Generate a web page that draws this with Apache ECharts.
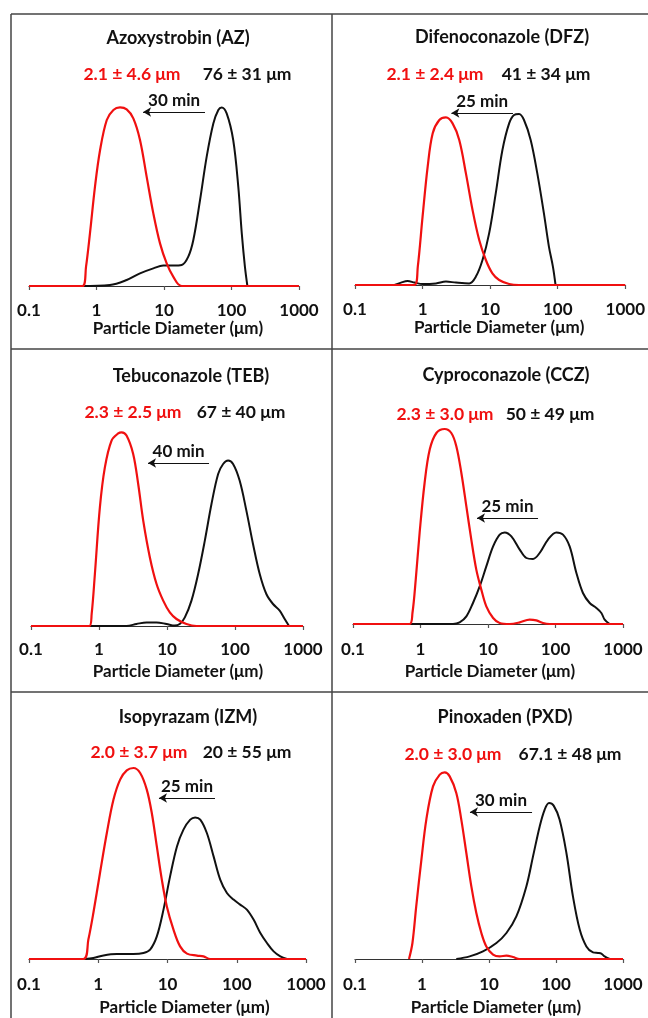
<!DOCTYPE html>
<html>
<head>
<meta charset="utf-8">
<script src="https://cdn.jsdelivr.net/npm/echarts@6/dist/echarts.min.js"></script>
<style>
  html, body { margin: 0; padding: 0; background: #fff; }
  #chart { width: 648px; height: 1018px; }
</style>
</head>
<body>
<div id="chart"></div>
<script>
// particle size distributions, [diameter µm, volume %]
const azRed = [[0.1,0],[0.62,0],[0.70,0.97],[0.80,2.63],[0.95,4.97],[1.13,6.8],[1.42,8.3],[1.78,8.8],[2.23,8.93],[2.80,8.83],[3.51,8.38],[4.41,7.3],[5.53,5.47],[6.95,3.63],[8.73,2.13],[10.96,1.13],[13.7,0.47],[18.3,0],[1000,0]]
const azBlack = [[0.6,0],[1.58,0.05],[2.80,0.3],[4.41,0.63],[6.95,0.88],[9.78,1.02],[13.7,1.02],[18.3,1.05],[22.9,1.47],[27.2,2.3],[34.2,4.3],[42.9,6.47],[53.8,8.13],[63.8,8.8],[71.5,8.93],[84.8,8.63],[106,7.3],[126,4.97],[142,2.63],[158,0.97],[172,0]]

const dfzRed = [[0.1,0],[0.76,0],[0.85,0.92],[1.0,3.42],[1.19,5.92],[1.41,7.58],[1.77,8.25],[2.22,8.38],[2.78,8.08],[3.49,7.25],[4.38,5.58],[5.49,3.75],[6.89,2.25],[8.64,1.25],[10.8,0.58],[13.6,0.25],[19.1,0.05],[26.8,0],[1000,0]]
const dfzBlack = [[0.385,0],[0.48,0.12],[0.60,0.2],[0.76,0.12],[1.0,0.05],[1.58,0.08],[2.22,0.17],[3.12,0.12],[4.90,0.08],[6.15,0.42],[7.71,1.25],[9.66,2.58],[12.1,4.58],[15.2,6.75],[19.1,8.08],[22.6,8.5],[26.8,8.55],[31.7,8.25],[39.8,7.25],[49.9,5.58],[62.5,3.58],[74.1,1.92],[84.9,0.92],[92.9,0]]

const tebRed = [[0.1,0],[0.72,0],[0.78,0.6],[0.87,2.6],[1.03,5.93],[1.22,7.93],[1.53,9.27],[1.92,9.63],[2.15,9.68],[2.54,9.52],[3.18,8.6],[3.77,7.1],[4.47,5.27],[5.60,3.43],[7.02,2.1],[8.79,1.27],[11.0,0.68],[13.8,0.35],[19.3,0.1],[27.1,0],[1000,0]]
const tebBlack = [[0.72,0],[2.54,0],[3.56,0.1],[5.0,0.18],[7.02,0.18],[9.85,0.1],[13.0,0.02],[15.4,0.1],[18.3,0.43],[22.9,1.27],[28.7,2.6],[36.0,4.27],[45.1,6.1],[56.5,7.6],[66.9,8.1],[79.1,8.27],[93.7,8.1],[117,7.27],[147,5.77],[184,4.1],[231,2.6],[289,1.6],[362,1.1],[454,0.77],[538,0.35],[623,0]]

const cczRed = [[0.1,0],[0.69,0],[0.76,0.55],[0.85,2.22],[0.97,4.55],[1.15,7.05],[1.37,8.72],[1.72,9.55],[2.28,9.75],[2.86,9.55],[3.40,8.88],[4.03,7.55],[4.78,5.88],[5.66,4.22],[6.71,2.72],[7.96,1.72],[9.44,0.88],[11.9,0.3],[14.9,0.05],[20.9,0],[29.5,0.08],[41.4,0.22],[52.0,0.18],[65.3,0.05],[82.0,0],[1000,0]]
const cczBlack = [[0.69,0],[3.03,0],[3.80,0.08],[4.78,0.38],[5.99,1.05],[7.53,1.88],[9.44,2.88],[11.9,3.88],[14.9,4.47],[17.7,4.58],[22.2,4.38],[29.5,3.72],[37.0,3.3],[46.4,3.25],[58.2,3.55],[77.4,4.22],[103,4.58],[129,4.47],[162,3.88],[204,2.55],[255,1.55],[321,1.05],[403,0.8],[478,0.55],[535,0.22],[634,0]]

const izmRed = [[0.1,0],[0.61,0],[0.72,0.97],[0.85,2.3],[1.06,4.3],[1.33,6.3],[1.66,7.97],[2.07,8.97],[2.58,9.43],[3.22,9.55],[4.03,9.3],[5.02,8.47],[5.93,7.3],[7.01,5.63],[8.28,3.97],[9.78,2.63],[12.2,1.47],[15.2,0.63],[19.1,0.27],[26.6,0.17],[33.1,0.13],[41.4,0],[1000,0]]
const izmBlack = [[0.645,0],[0.85,0.05],[1.19,0.18],[1.85,0.25],[3.22,0.25],[4.50,0.3],[5.61,0.47],[7.01,1.13],[8.75,2.47],[10.9,4.13],[13.7,5.63],[17.0,6.47],[21.3,6.97],[25.1,7.08],[29.7,6.97],[37.0,6.3],[46.3,5.13],[57.7,3.97],[72.1,3.3],[89.9,2.97],[112,2.72],[140,2.47],[175,1.97],[219,1.3],[273,0.8],[341,0.38],[426,0.13],[531,0]]

const pxdRed = [[0.64,0],[0.72,0.8],[0.82,2.63],[0.98,4.97],[1.16,6.97],[1.46,8.63],[1.84,9.22],[2.18,9.33],[2.59,9.13],[3.25,8.3],[3.86,6.97],[4.59,5.3],[5.45,3.63],[6.47,2.3],[7.69,1.3],[9.12,0.63],[11.5,0.22],[14.4,0.13],[18.2,0.17],[22.8,0.1],[28.7,0],[1000,0]]
const pxdBlack = [[3.25,0],[5.14,0.13],[8.13,0.38],[12.9,0.8],[18.2,1.3],[25.6,2.13],[36.1,3.63],[45.4,5.13],[57.1,6.63],[67.8,7.47],[78.7,7.8],[92.3,7.67],[113,6.97],[143,5.3],[179,3.13],[226,1.47],[284,0.63],[357,0.33],[424,0.3],[475,0.27],[532,0.13],[632,0]]

const titles = ['Azoxystrobin (AZ)', 'Difenoconazole (DFZ)', 'Tebuconazole (TEB)', 'Cyproconazole (CCZ)', 'Isopyrazam (IZM)', 'Pinoxaden (PXD)']
const redLabels = ['2.1 ± 4.6 μm', '2.1 ± 2.4 μm', '2.3 ± 2.5 μm', '2.3 ± 3.0 μm', '2.0 ± 3.7 μm', '2.0 ± 3.0 μm']
const blackLabels = ['76 ± 31 μm', '41 ± 34 μm', '67 ± 40 μm', '50 ± 49 μm', '20 ± 55 μm', '67.1 ± 48 μm']
const times = ['30 min', '25 min', '40 min', '25 min', '25 min', '30 min']
// arrow from / to diameter, at height
const arrows = [[40.5, 4.9, 8.7], [21.8, 2.67, 8.6], [41.5, 5.26, 8.15], [55.1, 6.87, 5.3], [48.5, 7.53, 8.05], [43.9, 5.2, 7.35]]
const redSeries = [azRed, dfzRed, tebRed, cczRed, izmRed, pxdRed]
const blackSeries = [azBlack, dfzBlack, tebBlack, cczBlack, izmBlack, pxdBlack]
const xTicks = [0.1, 1, 10, 100, 1000]

// panel layout
const panels = [
  { left: 29, width: 270, base: 286, titleX: 173, titleY: 35, annY: 71, redX: 127, blackX: 242, shift: 14, labelY: 311, nameY: 329 },
  { left: 355, width: 272, base: 285, titleX: 497, titleY: 34, annY: 71, redX: 430, blackX: 541, shift: 9, labelY: 310, nameY: 328 },
  { left: 31, width: 272, base: 626, titleX: 186, titleY: 373, annY: 409, redX: 128, blackX: 236, shift: 11, labelY: 650, nameY: 672 },
  { left: 353, width: 270, base: 624, titleX: 501, titleY: 372, annY: 411, redX: 440, blackX: 545, shift: 2, labelY: 650, nameY: 672 },
  { left: 29, width: 277, base: 959, titleX: 183, titleY: 714, annY: 749, redX: 134, blackX: 242, shift: 17, labelY: 985, nameY: 1008 },
  { left: 355, width: 268, base: 959, titleX: 500, titleY: 714, annY: 751, redX: 448, blackX: 565, shift: 7, labelY: 985, nameY: 1008 }
]

const FONT = 'Lato'
const TICK_SIZE = 17
const NAME_SIZE = 17
const chart = echarts.init(document.getElementById('chart'), null, { renderer: 'canvas' })

const grid = panels.map((p) => ({ left: p.left, width: p.width, top: p.base - 200, height: 200 }))

const xAxis = panels.map((p, i) => ({
  type: 'log',
  logBase: 10,
  min: 0.1,
  max: 1000,
  gridIndex: i,
  name: 'Particle Diameter (μm)',
  nameLocation: 'middle',
  nameGap: p.nameY - p.base - NAME_SIZE / 2,
  nameTextStyle: { fontFamily: FONT, fontWeight: 'bold', fontSize: NAME_SIZE, color: '#111', padding: [0, 0, 0, p.shift * 2] },
  axisLine: { lineStyle: { color: '#333', width: 1.2 } },
  axisTick: { inside: false, length: 4, lineStyle: { color: '#555', width: 1.2 } },
  splitLine: { show: false },
  axisLabel: {
    margin: p.labelY - p.base - TICK_SIZE / 2,
    fontFamily: FONT,
    fontWeight: 'bold',
    fontSize: TICK_SIZE,
    color: '#111',
    formatter: (v) => (xTicks.some((t) => Math.abs(t - v) / t < 1e-6) ? String(+v.toPrecision(3)) : '')
  }
}))

const yAxis = panels.map((p, i) => ({ type: 'value', min: 0, max: 10, gridIndex: i, show: false }))

const series = []
panels.forEach((p, i) => {
  series.push({
    type: 'line',
    xAxisIndex: i,
    yAxisIndex: i,
    data: blackSeries[i],
    smooth: 0.35,
    symbol: 'none',
    clip: false,
    lineStyle: { color: '#111', width: 2 },
    markLine: {
      silent: true,
      symbol: ['none', 'arrow'],
      symbolSize: [7, 8],
      lineStyle: { color: '#111', width: 1.2, type: 'solid' },
      label: {
        show: true,
        position: 'insideMiddleTop',
        distance: 3,
        formatter: times[i],
        fontFamily: FONT,
        fontWeight: 'bold',
        fontSize: 17,
        color: '#111'
      },
      data: [[{ coord: [arrows[i][0], arrows[i][2]] }, { coord: [arrows[i][1], arrows[i][2]] }]]
    }
  })
  series.push({
    type: 'line',
    xAxisIndex: i,
    yAxisIndex: i,
    data: redSeries[i],
    smooth: 0.35,
    symbol: 'none',
    clip: false,
    lineStyle: { color: '#f01010', width: 2.2 }
  })
})

const textStyle = { fontFamily: FONT, fontWeight: 'bold', fontSize: 18, color: '#111' }
const annStyle = { fontFamily: FONT, fontWeight: 'bold', fontSize: 17.5, color: '#111' }
const title = []
panels.forEach((p, i) => {
  title.push({ text: titles[i], left: p.titleX, top: p.titleY - 11, textAlign: 'center', textStyle })
  title.push({ text: redLabels[i], left: p.redX, top: p.annY - 11, textAlign: 'center', textStyle: { ...annStyle, color: '#f01010' } })
  title.push({ text: blackLabels[i], left: p.blackX, top: p.annY - 11, textAlign: 'center', textStyle: annStyle })
})

// panel frame lines
const frameStyle = { stroke: '#444', lineWidth: 1.5 }
const graphic = [
  { type: 'line', shape: { x1: 11, y1: 14, x2: 648, y2: 14 }, style: frameStyle },
  { type: 'line', shape: { x1: 11, y1: 14, x2: 11, y2: 1018 }, style: frameStyle },
  { type: 'line', shape: { x1: 332, y1: 14, x2: 332, y2: 1018 }, style: frameStyle },
  { type: 'line', shape: { x1: 11, y1: 349, x2: 648, y2: 349 }, style: frameStyle },
  { type: 'line', shape: { x1: 11, y1: 692, x2: 648, y2: 692 }, style: frameStyle }
]

chart.setOption({
  animation: false,
  backgroundColor: '#fff',
  title,
  grid,
  xAxis,
  yAxis,
  series,
  graphic
})
</script>
</body>
</html>
